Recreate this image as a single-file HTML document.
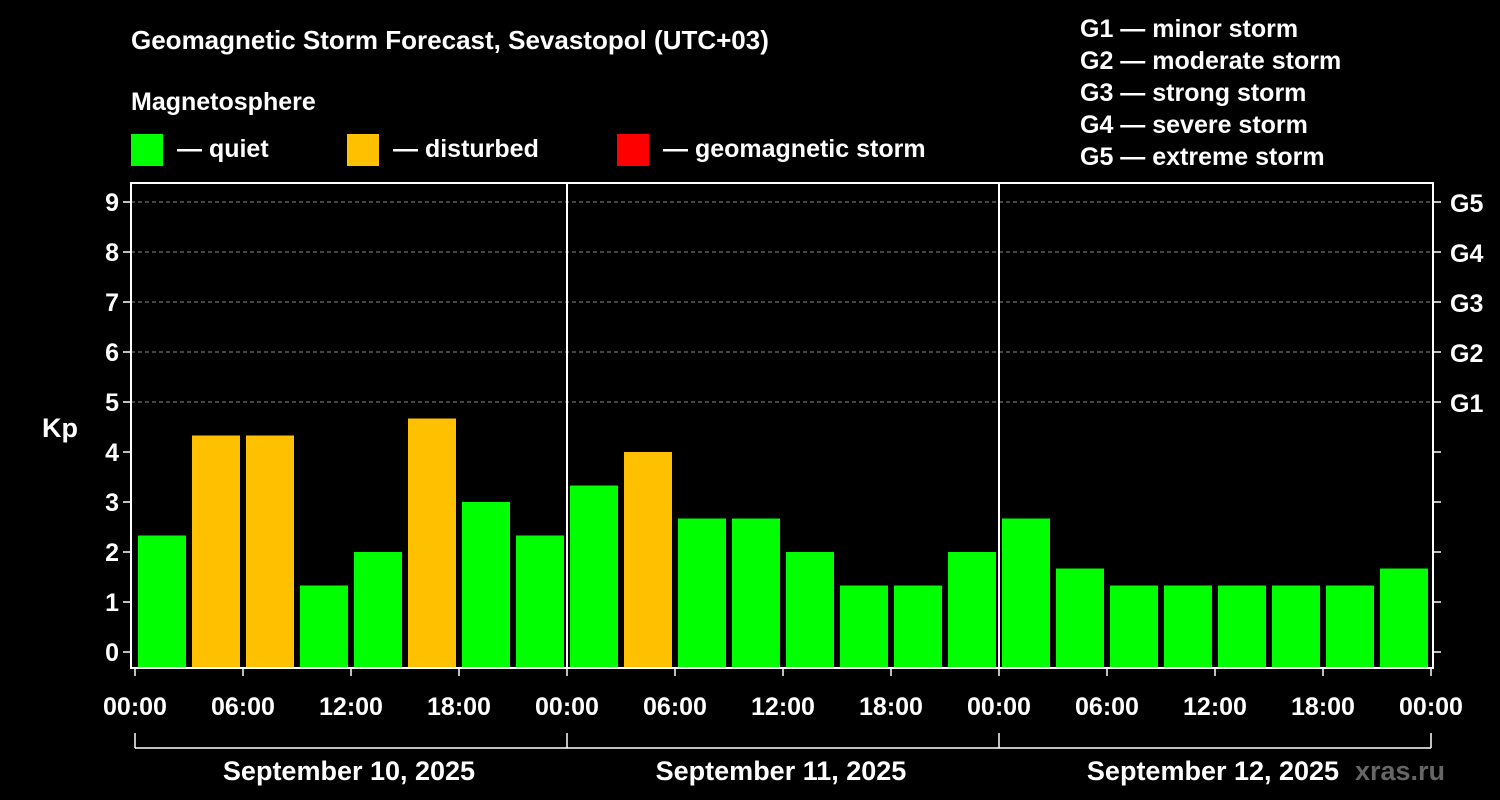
<!DOCTYPE html>
<html><head><meta charset="utf-8"><style>
body{margin:0;background:#000;width:1500px;height:800px;overflow:hidden}
svg{display:block;font-family:"Liberation Sans",sans-serif;font-weight:bold}
</style></head><body>
<svg id="chart" width="1500" height="800">
<text x="131" y="49" fill="#fff" font-size="26">Geomagnetic Storm Forecast, Sevastopol (UTC+03)</text>
<text x="131" y="110" fill="#fff" font-size="25">Magnetosphere</text>
<g><rect x="131" y="134" width="32" height="32" fill="#00ff00"/><text x="177" y="157" fill="#fff" font-size="25">— quiet</text></g>
<g><rect x="347" y="134" width="32" height="32" fill="#ffc000"/><text x="393" y="157" fill="#fff" font-size="25">— disturbed</text></g>
<g><rect x="617" y="134" width="32" height="32" fill="#ff0000"/><text x="663" y="157" fill="#fff" font-size="25">— geomagnetic storm</text></g>
<g fill="#fff" font-size="25">
<text x="1080" y="37">G1 — minor storm</text><text x="1080" y="69">G2 — moderate storm</text><text x="1080" y="101">G3 — strong storm</text><text x="1080" y="133">G4 — severe storm</text><text x="1080" y="165">G5 — extreme storm</text></g>
<text x="42" y="437" fill="#fff" font-size="27">Kp</text>
<g id="grid"></g><g id="bars"></g><g id="axes"></g>
<text x="1400" y="780" fill="#666" font-size="27" text-anchor="middle">xras.ru</text>
</svg>
<script>
const kpValues=[2.33,4.33,4.33,1.33,2,4.67,3,2.33, 3.33,4,2.67,2.67,2,1.33,1.33,2, 2.67,1.67,1.33,1.33,1.33,1.33,1.33,1.67];
const dayLabels=["September 10, 2025","September 11, 2025","September 12, 2025"];
const hourLabels=["00:00","06:00","12:00","18:00"];
const gLabels=["G1","G2","G3","G4","G5"];
const NS="http://www.w3.org/2000/svg";
const X0=135,SLOT=54,L=131,R=1433,T=183,B=668;
const y=v=>652-v*50, x=i=>X0+i*SLOT;
function mk(tag,attrs,parent,txt){const e=document.createElementNS(NS,tag);for(const k in attrs)e.setAttribute(k,attrs[k]);if(txt!==undefined)e.textContent=txt;document.getElementById(parent).appendChild(e);return e;}
for(let v=5;v<=9;v++){const l=mk('line',{x1:L,x2:R,y1:y(v),y2:y(v),stroke:'#888','stroke-dasharray':'4,3','stroke-width':1},'grid');

}
kpValues.forEach((v,i)=>{const c=v>=5?'#ff0000':v>=4?'#ffc000':'#00ff00';
const r=mk('rect',{x:x(i)+3,y:y(v),width:48,height:B-y(v),fill:c},'bars');

});
mk('rect',{x:L,y:T,width:R-L,height:B-T,fill:'none',stroke:'#fff','stroke-width':2},'axes');
for(let d=1;d<3;d++)mk('line',{x1:x(d*8),x2:x(d*8),y1:T,y2:B,stroke:'#fff','stroke-width':2},'axes');
for(let v=0;v<=9;v++){mk('line',{x1:L-8,x2:L,y1:y(v),y2:y(v),stroke:'#fff','stroke-width':1.5},'axes');
mk('line',{x1:R,x2:R+8,y1:y(v),y2:y(v),stroke:'#fff','stroke-width':1.5},'axes');
const t=mk('text',{x:L-12,y:y(v)+9,fill:'#fff','font-size':25,'text-anchor':'end'},'axes',String(v));

}
gLabels.forEach((g,i)=>{const t=mk('text',{x:1450,y:y(5+i)+10,fill:'#fff','font-size':25},'axes',g);

});
for(let i=0;i<=12;i++){const xx=x(i*2);
mk('line',{x1:xx,x2:xx,y1:B,y2:B+8,stroke:'#fff','stroke-width':1.5},'axes');
const t=mk('text',{x:xx,y:715,fill:'#fff','font-size':25,'text-anchor':'middle'},'axes',hourLabels[i%4]);

}
mk('line',{x1:x(0),x2:x(24),y1:748,y2:748,stroke:'#fff','stroke-width':1.5},'axes');
for(let d=0;d<=3;d++)mk('line',{x1:x(d*8),x2:x(d*8),y1:733,y2:748,stroke:'#fff','stroke-width':1.5},'axes');
dayLabels.forEach((s,d)=>{const t=mk('text',{x:x(d*8+4)-2,y:780,fill:'#fff','font-size':27,'text-anchor':'middle'},'axes',s);

});
</script>
</body></html>
